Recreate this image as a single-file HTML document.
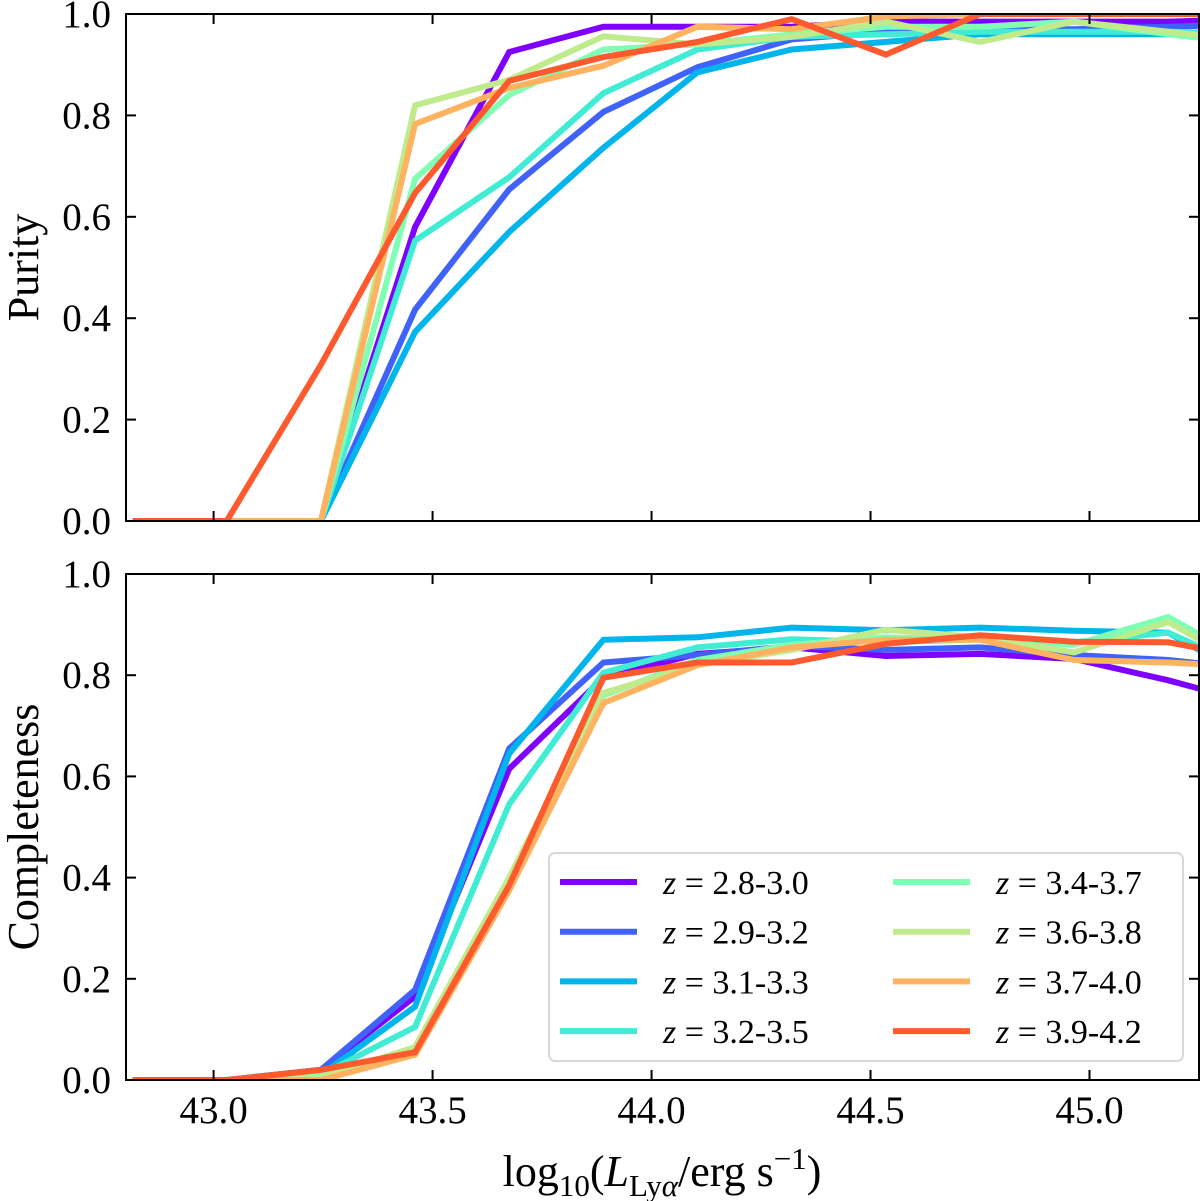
<!DOCTYPE html>
<html><head><meta charset="utf-8"><style>
html,body{margin:0;padding:0;background:#fff;}
svg{display:block;font-family:"Liberation Serif",serif;}
</style></head><body>
<svg id="chart" width="1200" height="1201" viewBox="0 0 1200 1201" xmlns="http://www.w3.org/2000/svg">
<defs>
<clipPath id="clipTop"><rect x="126" y="14" width="1073" height="507"/></clipPath>
<clipPath id="clipBot"><rect x="126" y="574" width="1073" height="506"/></clipPath>
</defs>
</svg>
<script>
const xValues = [42.815,43.03,43.245,43.46,43.675,43.89,44.105,44.32,44.535,44.75,44.965,45.18,45.395];
const seriesLabels = ["2.8-3.0","2.9-3.2","3.1-3.3","3.2-3.5","3.4-3.7","3.6-3.8","3.7-4.0","3.9-4.2"];
const seriesColors = ["#8000ff","#4062fa","#00b5eb","#40ecd4","#80ffb4","#c0eb8d","#ffb360","#ff5a2e"];
const purity0 = [0,0,0,0.58,0.925,0.975,0.975,0.975,0.985,0.985,0.985,0.985,0.99];
const purity1 = [0,0,0,0.417,0.654,0.807,0.895,0.95,0.965,0.97,0.97,0.975,0.98];
const purity2 = [0,0,0,0.373,0.57,0.736,0.885,0.93,0.945,0.96,0.96,0.96,0.96];
const purity3 = [0,0,0,0.553,0.678,0.844,0.93,0.955,0.96,0.965,0.965,0.965,0.96];
const purity4 = [0,0,0,0.675,0.84,0.93,0.94,0.96,0.975,0.975,0.985,0.96,0.94];
const purity5 = [0,0,0,0.82,0.87,0.956,0.94,0.955,0.985,0.945,0.985,0.965,0.945];
const purity6 = [0,0,0,0.783,0.854,0.898,0.975,0.97,0.995,1.0,1.0,1.0,1.0];
const purity7 = [0,0,0.308,0.647,0.868,0.915,0.945,0.99,0.92,1.0,1.0,1.0,1.0];
const compl0 = [0,0,0.02,0.165,0.615,0.795,0.842,0.855,0.838,0.842,0.832,0.79,0.74];
const compl1 = [0,0,0.02,0.178,0.655,0.825,0.84,0.858,0.85,0.855,0.84,0.83,0.81];
const compl2 = [0,0,0.01,0.145,0.645,0.87,0.875,0.894,0.889,0.894,0.888,0.884,0.78];
const compl3 = [0,0,0.01,0.105,0.545,0.805,0.855,0.871,0.865,0.871,0.865,0.884,0.8];
const compl4 = [0,0,0.01,0.06,0.39,0.76,0.83,0.86,0.875,0.87,0.86,0.915,0.81];
const compl5 = [0,0,0.005,0.065,0.4,0.765,0.82,0.85,0.89,0.875,0.845,0.905,0.8];
const compl6 = [0,0,0,0.05,0.375,0.745,0.82,0.855,0.87,0.87,0.83,0.825,0.815];
const compl7 = [0,0,0.02,0.055,0.385,0.795,0.825,0.825,0.862,0.879,0.866,0.865,0.83];
const xTicks = [43.0,43.5,44.0,44.5,45.0];
const xTickLabels = ["43.0","43.5","44.0","44.5","45.0"];
const yTicks = [0,0.2,0.4,0.6,0.8,1.0];
const yTickLabels = ["0.0","0.2","0.4","0.6","0.8","1.0"];

const purity = [purity0,purity1,purity2,purity3,purity4,purity5,purity6,purity7];
const compl = [compl0,compl1,compl2,compl3,compl4,compl5,compl6,compl7];
const NS = "http://www.w3.org/2000/svg";
const svg = document.getElementById("chart");
const X0 = 126, X1 = 1199, XMIN = 42.8, XMAX = 45.25;
function xs(v){ return X0 + (v - XMIN) / (XMAX - XMIN) * (X1 - X0); }
function mk(tag, attrs, parent){ const e = document.createElementNS(NS, tag); for (const k in attrs) e.setAttribute(k, attrs[k]); (parent||svg).appendChild(e); return e; }

const panels = [
  {top:14, bot:521, data:purity, clip:"clipTop", name:"purity", label:"Purity", showX:false},
  {top:574, bot:1080, data:compl, clip:"clipBot", name:"completeness", label:"Completeness", showX:true}
];
panels.forEach(p => {
  const ys = v => p.bot - v * (p.bot - p.top);
  const g = mk("g", {});
  
  
  const lg = mk("g", {"clip-path":"url(#"+p.clip+")"}, g);
  p.data.forEach((arr, si) => {
    const d = arr.map((v,i) => (i?"L":"M") + xs(xValues[i]).toFixed(1) + "," + ys(v).toFixed(1)).join(" ");
    const path = mk("path", {d:d, fill:"none", stroke:seriesColors[si], "stroke-width":6, "stroke-linejoin":"miter"}, lg);
    
    
  });
  const frame = mk("rect", {x:X0, y:p.top, width:X1-X0, height:p.bot-p.top, fill:"none", stroke:"#000", "stroke-width":2}, g);
  
  
  xTicks.forEach((t,i) => {
    const x = xs(t);
    mk("line", {x1:x, x2:x, y1:p.bot, y2:p.bot-10, stroke:"#000", "stroke-width":2}, g);
    mk("line", {x1:x, x2:x, y1:p.top, y2:p.top+10, stroke:"#000", "stroke-width":2}, g);
    if (p.showX) {
      const tx = mk("text", {x:x, y:p.bot+43, "font-size":39, "text-anchor":"middle"}, g);
      tx.textContent = xTickLabels[i];
      
      
    }
  });
  yTicks.forEach((t,i) => {
    const y = ys(t);
    mk("line", {x1:X0, x2:X0+10, y1:y, y2:y, stroke:"#000", "stroke-width":2}, g);
    mk("line", {x1:X1-10, x2:X1, y1:y, y2:y, stroke:"#000", "stroke-width":2}, g);
    const ty = mk("text", {x:111, y:y+13, "font-size":39, "text-anchor":"end"}, g);
    ty.textContent = yTickLabels[i];
    
    
  });
  const yl = mk("text", {x:0, y:0, "font-size":44, "text-anchor":"middle", transform:"translate(38,"+((p.top+p.bot)/2)+") rotate(-90)"}, g);
  yl.textContent = p.label;
  
  
});

// x axis title
const xt = mk("text", {x:662, y:1186, "font-size":44, "text-anchor":"middle"});


xt.innerHTML = 'log<tspan font-size="31" dy="10">10</tspan><tspan dy="-10">(</tspan><tspan font-style="italic">L</tspan><tspan font-size="31" dy="10">Ly<tspan font-style="italic">α</tspan></tspan><tspan dy="-10">/erg s</tspan><tspan font-size="31" dy="-17">−1</tspan><tspan dy="17">)</tspan>';

// legend
const leg = mk("g", {});


mk("rect", {x:549, y:853, width:634, height:208, rx:6, fill:"#fff", stroke:"#d8d8d8", "stroke-width":2}, leg);
seriesLabels.forEach((lab, si) => {
  const col = Math.floor(si/4), row = si%4;
  const lx = col ? 893 : 560, ty = 882 + row*49.7;
  const ln = mk("line", {x1:lx, x2:lx+77, y1:ty, y2:ty, stroke:seriesColors[si], "stroke-width":6}, leg);
  
  
  const tx = mk("text", {x:lx+103, y:ty+12, "font-size":34}, leg);
  tx.innerHTML = '<tspan font-style="italic">z</tspan> = ' + lab;
  
  
});
</script>
</body></html>
